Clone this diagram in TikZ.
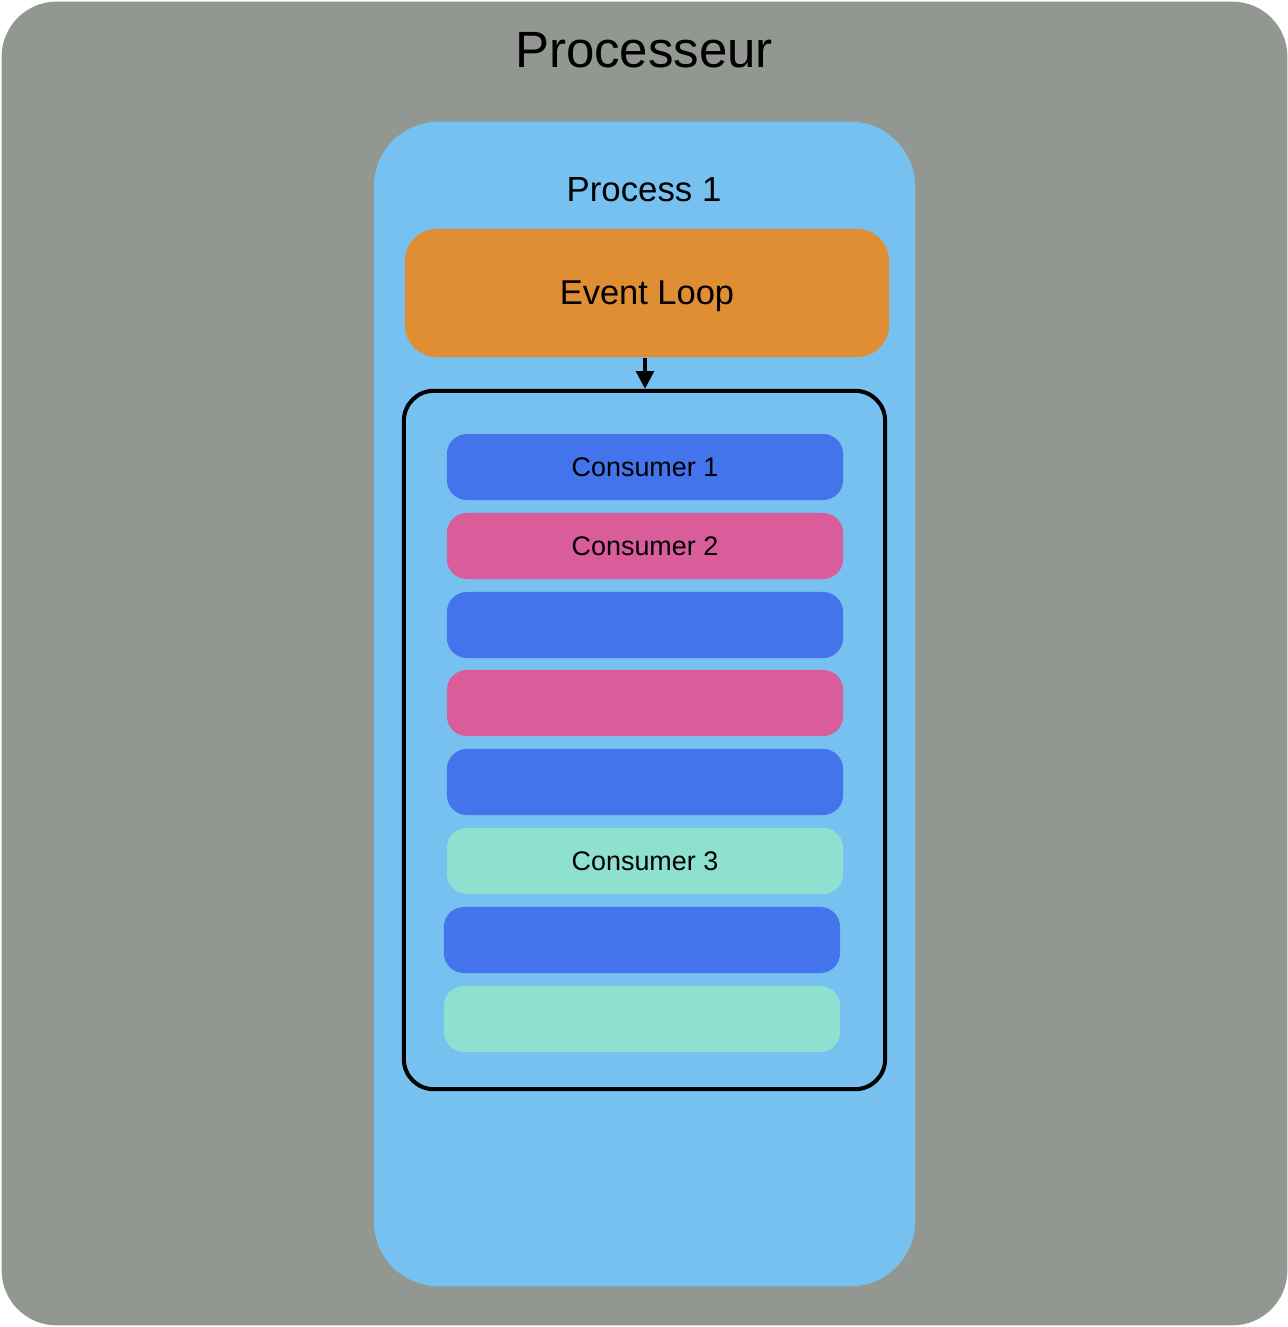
\documentclass[tikz,border=0pt]{standalone}
\usepackage{fontspec}
\setmainfont{Liberation Sans}
\usetikzlibrary{arrows.meta,positioning}
\definecolor{CpuGray}{RGB}{146,151,146}
\definecolor{ProcBlue}{RGB}{118,193,240}
\definecolor{LoopOrange}{RGB}{224,142,51}
\definecolor{TaskBlue}{RGB}{68,116,236}
\definecolor{TaskPink}{RGB}{217,93,154}
\definecolor{TaskMint}{RGB}{142,225,207}

\tikzset{
	box/.style={rectangle, inner sep=0pt, text=black},
	task/.style={box, minimum width=3.96cm, minimum height=0.66cm, rounded corners=0.2cm, font=\fontsize{7.65}{9}\selectfont}
}

\begin{document}
\begin{tikzpicture}[x=0.01cm, y=-0.01cm]
		\useasboundingbox (0,0) rectangle (1288,1327);
		% processeur
		\node[box, fill=CpuGray, minimum width=12.85cm, minimum height=13.23cm, rounded corners=0.55cm] (cpu) at (644.5,663.5) {};
		\node[font=\fontsize{14.5}{16}\selectfont] (cputitle) at (644,50) {Processeur};
		% process 1
		\node[box, fill=ProcBlue, minimum width=5.41cm, minimum height=11.64cm, rounded corners=0.65cm] (proc) at (644.5,704) {};
		\node[font=\fontsize{9.9}{12}\selectfont] (proctitle) at (644,190) {Process 1};
		\node[box, fill=LoopOrange, minimum width=4.84cm, minimum height=1.28cm, rounded corners=0.32cm, text depth=0pt, font=\fontsize{9.8}{12}\selectfont] (loop) at (647,293) {Event Loop};
		% file des consumers
		\node[box, draw=black, line width=1.15pt, minimum width=4.81cm, minimum height=6.98cm, rounded corners=0.3cm] (queue) at (644.5,740) {};
		\draw[line width=1pt, -{Triangle[length=5pt,width=5pt]}] (loop.south -| 645,0) -- (queue.north -| 645,0);
		\foreach \i/\y/\cx/\col/\txt in {1/467/645/TaskBlue/Consumer 1, 2/546/645/TaskPink/Consumer 2, 3/625/645/TaskBlue/, 4/703/645/TaskPink/, 5/782/645/TaskBlue/, 6/861/645/TaskMint/Consumer 3, 7/940/642/TaskBlue/, 8/1019/642/TaskMint/}
			\node[task, fill=\col] (c\i) at (\cx,\y) {\txt};
	\end{tikzpicture}
\end{document}
